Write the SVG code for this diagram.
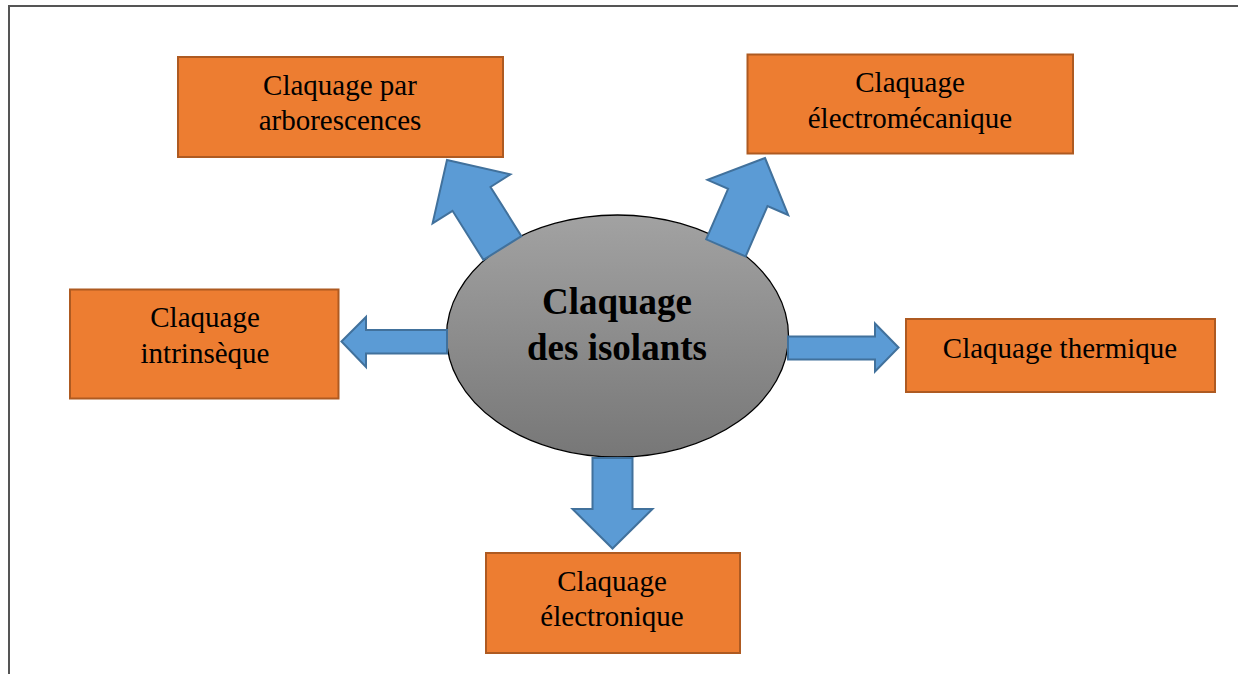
<svg xmlns="http://www.w3.org/2000/svg" width="1238" height="674" viewBox="0 0 1238 674">
<style>
.box{fill:#ED7D31;stroke:#AE5A21;stroke-width:2}
.lbl{font-family:"Liberation Serif","Times New Roman",serif;font-size:29px;fill:#000;text-anchor:middle}
.title{font-family:"Liberation Serif","Times New Roman",serif;font-size:37px;font-weight:bold;fill:#000;text-anchor:middle}
.arr{fill:#5B9BD5;stroke:#41719C;stroke-width:2;stroke-linejoin:miter}
</style>
<defs>
<linearGradient id="g" x1="0" y1="0" x2="0" y2="1">
<stop offset="0" stop-color="#A2A2A2"/>
<stop offset="1" stop-color="#777777"/>
</linearGradient>
</defs>
<rect width="1238" height="674" fill="#fff"/>
<path d="M9,674 V6 H1238" fill="none" stroke="#555" stroke-width="2"/>

<g id="center">
<ellipse cx="617.5" cy="336" rx="171" ry="121" fill="url(#g)" stroke="#000" stroke-width="1.3"/>
<text class="title" x="617" y="314">Claquage</text>
<text class="title" x="617" y="360">des isolants</text>
</g>

<g id="connectors">
<polygon class="arr" points="447,160 510.4,174.4 490.5,187 521.4,236.1 483.4,259.9 452.5,210.8 432.6,223.4"/>
<polygon class="arr" points="765,158 788.2,215 767.5,206 745.6,256.5 706.2,239.3 728.1,188.8 707.5,179.8"/>
<polygon class="arr" points="341.5,341.5 366,317 366,330 447,330 447,353.5 366,353.5 366,367"/>
<polygon class="arr" points="898.5,347.5 875,323.5 875,336.5 788,336.5 788,359.5 875,359.5 875,371.5"/>
<polygon class="arr" points="592.5,458 632.5,458 632.5,509 652.5,509 612.5,548.5 572.5,509 592.5,509"/>
</g>

<g id="n-arborescences">
<rect class="box" x="178" y="57" width="325" height="100"/>
<text class="lbl" x="340" y="95">Claquage par</text>
<text class="lbl" x="340" y="130">arborescences</text>
</g>

<g id="n-electromecanique">
<rect class="box" x="747.5" y="54.5" width="325.5" height="99"/>
<text class="lbl" x="910" y="92">Claquage</text>
<text class="lbl" x="910" y="128">électromécanique</text>
</g>

<g id="n-intrinseque">
<rect class="box" x="70" y="289.5" width="268.5" height="109"/>
<text class="lbl" x="205" y="327">Claquage</text>
<text class="lbl" x="205" y="363">intrinsèque</text>
</g>

<g id="n-thermique">
<rect class="box" x="906" y="319" width="309" height="73"/>
<text class="lbl" x="1060" y="358">Claquage thermique</text>
</g>

<g id="n-electronique">
<rect class="box" x="486" y="553" width="254" height="100"/>
<text class="lbl" x="612" y="591">Claquage</text>
<text class="lbl" x="612" y="626">électronique</text>
</g>
</svg>
